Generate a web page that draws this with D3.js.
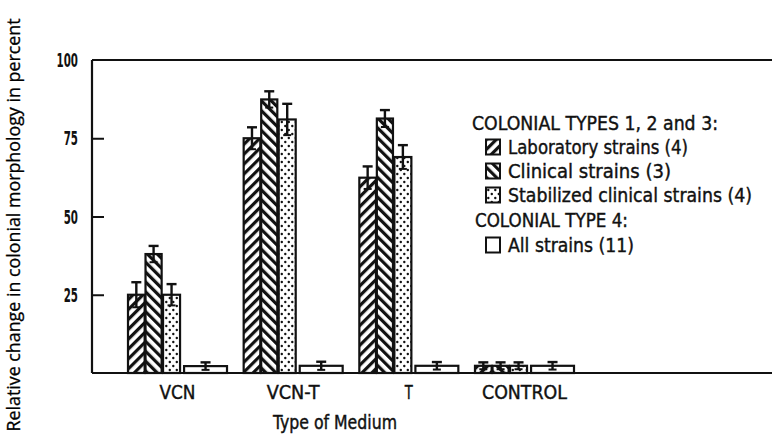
<!DOCTYPE html>
<html><head><meta charset="utf-8">
<script src="https://cdn.jsdelivr.net/npm/d3@7"></script>
<style>
html,body{margin:0;padding:0;background:#fff;}
svg{display:block;}
.cond{font-family:"Liberation Sans Narrow","DejaVu Sans Condensed","Roboto","Liberation Sans",sans-serif;font-stretch:condensed;fill:#111;stroke:#111;stroke-width:0.4px;}
</style></head>
<body>
<svg id="chart" width="772" height="439"></svg>
<script>
// ---------- data ----------
const categories = ["VCN", "VCN-T", "T", "CONTROL"];
const seriesNames = ["Laboratory strains (4)", "Clinical strains (3)", "Stabilized clinical strains (4)", "All strains (11)"];
const labValues  = [25, 75, 62.4, 2.3];
const labErrors  = [4, 3.5, 3.6, 1.1];
const clinValues = [38, 87.4, 81.3, 2.3];
const clinErrors = [2.6, 2.6, 2.7, 1.1];
const stabValues = [25, 81, 69, 2.3];
const stabErrors = [3.4, 5, 3.8, 1.1];
const allValues  = [2.2, 2.3, 2.3, 2.3];
const allErrors  = [1.2, 1.3, 1.2, 1.2];
const yTickValues = [25, 50, 75];
const yLabelValues = [25, 50, 75, 100];
const legendHeading1 = "COLONIAL TYPES 1, 2 and 3:";
const legendHeading2 = "COLONIAL TYPE 4:";
const xTitle = "Type of Medium";
const yTitle = "Relative change in colonial morphology in percent";

// ---------- layout ----------
const svg = d3.select("#chart");
const plotLeft = 92, plotTop = 60, plotBottom = 373, plotRight = 772;

const y = d3.scaleLinear().domain([0, 100]).range([plotBottom, plotTop]);
const x0 = d3.scaleBand().domain(categories).range([128, 574]).paddingInner(0.144).paddingOuter(0);
const subStart = {lab: 0, clin: 1, stab: 2, all: 3.2};
const subWidth = {lab: 0.95, clin: 0.92, stab: 0.97, all: 2.45};
const x1 = d3.scaleLinear().domain([0, 5.65]).range([0, x0.bandwidth()]);

// ---------- patterns ----------
const defs = svg.append("defs");
const p1 = defs.append("pattern").attr("id","hatchFwd").attr("patternUnits","userSpaceOnUse")
  .attr("width",7).attr("height",7).attr("patternTransform","rotate(45)");
p1.append("rect").attr("width",7).attr("height",7).attr("fill","#fff");
p1.append("rect").attr("x",0).attr("y",0).attr("width",3.2).attr("height",7).attr("fill","#111");
const p2 = defs.append("pattern").attr("id","hatchBack").attr("patternUnits","userSpaceOnUse")
  .attr("width",7).attr("height",7).attr("patternTransform","rotate(-45)");
p2.append("rect").attr("width",7).attr("height",7).attr("fill","#fff");
p2.append("rect").attr("x",0).attr("y",0).attr("width",3.2).attr("height",7).attr("fill","#111");
const p3 = defs.append("pattern").attr("id","dots").attr("patternUnits","userSpaceOnUse")
  .attr("width",7).attr("height",8);
p3.append("rect").attr("width",7).attr("height",8).attr("fill","#fff");
p3.append("circle").attr("cx",1.8).attr("cy",2).attr("r",1.2).attr("fill","#111");
p3.append("circle").attr("cx",5.3).attr("cy",6).attr("r",1.2).attr("fill","#111");

const series = [
  {key:"lab",  name: seriesNames[0], values: labValues,  errors: labErrors,  fill:"url(#hatchFwd)"},
  {key:"clin", name: seriesNames[1], values: clinValues, errors: clinErrors, fill:"url(#hatchBack)"},
  {key:"stab", name: seriesNames[2], values: stabValues, errors: stabErrors, fill:"url(#dots)"},
  {key:"all",  name: seriesNames[3], values: allValues,  errors: allErrors,  fill:"#fff"}
];

// ---------- bars ----------
const barData = [];
series.forEach(s => categories.forEach((c, i) => {
  barData.push({cat: c, key: s.key, v: s.values[i], e: s.errors[i], fill: s.fill});
}));

const gBars = svg.append("g");
gBars.selectAll("rect.bar").data(barData).enter().append("rect")
  .attr("class","bar")
  .attr("x", d => x0(d.cat) + x1(subStart[d.key]))
  .attr("width", d => x1(subWidth[d.key]) - x1(0))
  .attr("y", d => y(d.v))
  .attr("height", d => y(0) - y(d.v))
  .attr("fill", d => d.fill)
  .attr("stroke", "#111").attr("stroke-width", 2.2);

// error bars
const gErr = svg.append("g").attr("stroke","#111");
barData.forEach(d => {
  const cx = x0(d.cat) + x1(subStart[d.key] + subWidth[d.key] / 2);
  const hi = y(d.v + d.e), lo = y(Math.max(0, d.v - d.e));
  gErr.append("line").attr("x1",cx).attr("x2",cx).attr("y1",hi).attr("y2",lo).attr("stroke-width",2.4);
  gErr.append("line").attr("x1",cx-5).attr("x2",cx+5).attr("y1",hi).attr("y2",hi).attr("stroke-width",2.4);
  gErr.append("line").attr("x1",cx-4).attr("x2",cx+4).attr("y1",lo).attr("y2",lo).attr("stroke-width",2);
});

// ---------- frame / axes ----------
const gFrame = svg.append("g").attr("stroke","#111").attr("fill","none");
gFrame.append("line").attr("x1",plotLeft).attr("x2",plotRight).attr("y1",plotTop).attr("y2",plotTop).attr("stroke-width",2);
gFrame.append("line").attr("x1",plotLeft).attr("x2",plotRight).attr("y1",plotBottom).attr("y2",plotBottom).attr("stroke-width",2.2);

const yAxis = d3.axisLeft(y).tickValues(yTickValues).tickSize(-12).tickFormat("");
const gy = svg.append("g").attr("transform",`translate(${plotLeft},0)`).call(yAxis);
gy.select(".domain").attr("stroke","#111").attr("stroke-width",2.2).attr("d",`M0,${plotTop}V${plotBottom}`);
gy.selectAll(".tick line").attr("stroke","#111").attr("stroke-width",2);

// tick labels (condensed via horizontal scale)
svg.append("g").selectAll("text").data(yLabelValues).enter().append("text")
  .attr("transform", d => `translate(78,${y(d) + 7}) scale(0.54,1)`)
  .attr("text-anchor","end")
  .attr("font-family","'DejaVu Sans','Liberation Sans',sans-serif")
  .attr("font-weight","bold")
  .attr("font-size",19).attr("fill","#111")
  .text(d => d);

// x labels
const xLabelWidths = {"VCN": 36, "VCN-T": 53, "T": 8, "CONTROL": 85};
svg.append("g").selectAll("text").data(categories).enter().append("text")
  .attr("class","cond")
  .attr("x", d => x0(d) + x0.bandwidth()/2)
  .attr("y", 399)
  .attr("text-anchor","middle")
  .style("font-size","19px")
  .attr("textLength", d => xLabelWidths[d]).attr("lengthAdjust","spacingAndGlyphs")
  .text(d => d);

svg.append("text").attr("class","cond")
  .attr("x", 335).attr("y", 429).attr("text-anchor","middle").style("font-size","19px")
  .attr("textLength",124).attr("lengthAdjust","spacingAndGlyphs")
  .text(xTitle);

svg.append("text")
  .attr("transform","translate(20,225) rotate(-90)")
  .attr("text-anchor","middle")
  .attr("font-family","'Open Sans','DejaVu Sans',sans-serif")
  .attr("font-size",18.5).attr("fill","#000").attr("stroke","#000").attr("stroke-width",0.3)
  .attr("textLength",413).attr("lengthAdjust","spacingAndGlyphs")
  .text(yTitle);

// ---------- legend ----------
const lg = svg.append("g");
const rowY = [123, 147, 171, 195, 220, 245];
const hdrWidths = [246, 153];
lg.append("text").attr("class","cond").attr("x",472).attr("y",rowY[0]+7).style("font-size","20px")
  .attr("textLength",hdrWidths[0]).attr("lengthAdjust","spacingAndGlyphs").text(legendHeading1);
lg.append("text").attr("class","cond").attr("x",475).attr("y",rowY[4]+7).style("font-size","20px")
  .attr("textLength",hdrWidths[1]).attr("lengthAdjust","spacingAndGlyphs").text(legendHeading2);
const legRows = [
  {s: series[0], yy: rowY[1], w: 180},
  {s: series[1], yy: rowY[2], w: 163},
  {s: series[2], yy: rowY[3], w: 244},
  {s: series[3], yy: rowY[5], w: 126}
];
legRows.forEach(r => {
  lg.append("rect").attr("x",486).attr("y",r.yy-7.5).attr("width",14).attr("height",15)
    .attr("fill", r.s.fill).attr("stroke","#111").attr("stroke-width",2);
  lg.append("text").attr("class","cond").attr("x",508).attr("y",r.yy+7).style("font-size","20px")
    .attr("textLength",r.w).attr("lengthAdjust","spacingAndGlyphs").text(r.s.name);
});
</script>
</body></html>
